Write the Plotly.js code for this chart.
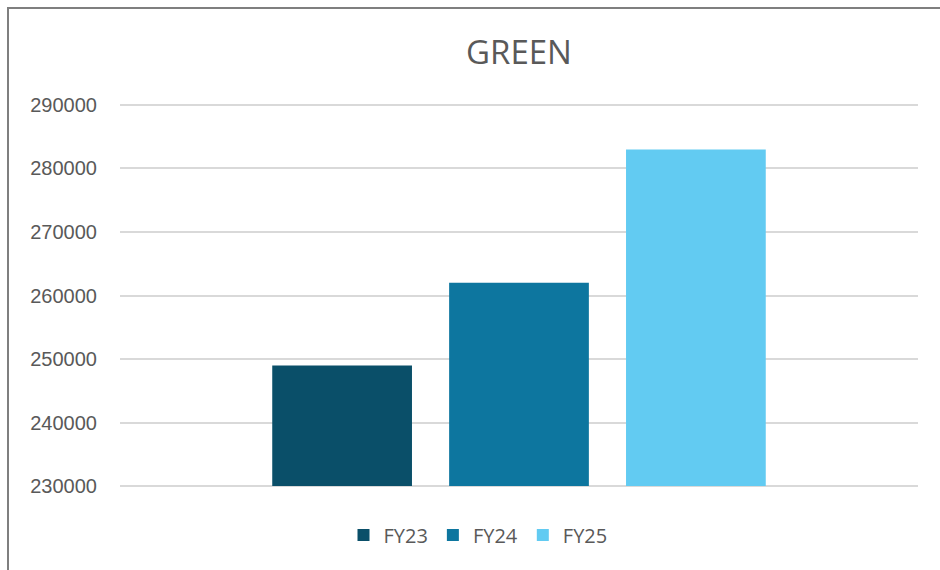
<!DOCTYPE html>
<html>
<head>
<meta charset="utf-8">
<script src="https://cdn.plot.ly/plotly-3.0.1.min.js"></script>
<style>
  html, body { margin: 0; padding: 0; background: #ffffff; }
  #chart { width: 940px; height: 570px; }
</style>
</head>
<body>
<div id="chart"></div>
<script>
const categories = ["GREEN"];
const seriesNames = ["FY23", "FY24", "FY25"];
const seriesValues = [[249000], [262000], [283000]];
const seriesColors = ["#0a4f69", "#0d769f", "#62cbf2"];
const yTickValues = [230000, 240000, 250000, 260000, 270000, 280000, 290000];
const axisBase = 230000;

const traces = seriesNames.map((name, i) => ({
  type: "bar",
  name: name,
  x: categories,
  base: axisBase,
  y: seriesValues[i].map(v => v - axisBase),
  marker: { color: seriesColors[i], line: { width: 0 } },
  hoverinfo: "name"
}));

const L = 120, R = 22, T = 103, B = 82;
const PW = 940 - L - R, PH = 570 - T - B;

const layout = {
  width: 940,
  height: 570,
  paper_bgcolor: "#ffffff",
  plot_bgcolor: "#ffffff",
  margin: { l: L, r: R, t: T, b: B },
  barmode: "group",
  bargap: 0.335,
  bargroupgap: 0.21,
  title: {
    text: "GREEN",
    x: 0.5,
    xref: "paper",
    xanchor: "center",
    y: 1 - 52 / 570,
    yanchor: "middle",
    font: { family: "Open Sans, sans-serif", size: 33, color: "#595959" }
  },
  xaxis: {
    showticklabels: false,
    showgrid: false,
    zeroline: false,
    showline: false,
    ticks: ""
  },
  yaxis: {
    range: [229700, 290300],
    tickvals: yTickValues,
    ticktext: yTickValues.map(String),
    showgrid: true,
    gridcolor: "#d9d9d9",
    gridwidth: 2,
    zeroline: false,
    showline: false,
    ticks: "",
    ticklabelstandoff: 22,
    tickfont: { family: "Liberation Sans, Arial, sans-serif", size: 20, color: "#595959" }
  },
  showlegend: true,
  legend: {
    orientation: "h",
    x: (478 - L) / PW,
    xanchor: "center",
    y: (570 - B - 535) / PH,
    yanchor: "middle",
    itemwidth: 30,
    traceorder: "normal",
    font: { family: "Open Sans, sans-serif", size: 20, color: "#595959" }
  },
  shapes: [
    {
      type: "path",
      xref: "paper",
      yref: "paper",
      path: "M " + ((8 - L) / PW) + "," + ((570 - B - 575) / PH) +
            " L " + ((8 - L) / PW) + "," + (1 + (T - 8) / PH) +
            " L " + ((945 - L) / PW) + "," + (1 + (T - 8) / PH),
      line: { color: "#7f7f7f", width: 2 },
      layer: "above"
    }
  ]
};

Plotly.newPlot("chart", traces, layout, { displayModeBar: false, staticPlot: true });
</script>
</body>
</html>
